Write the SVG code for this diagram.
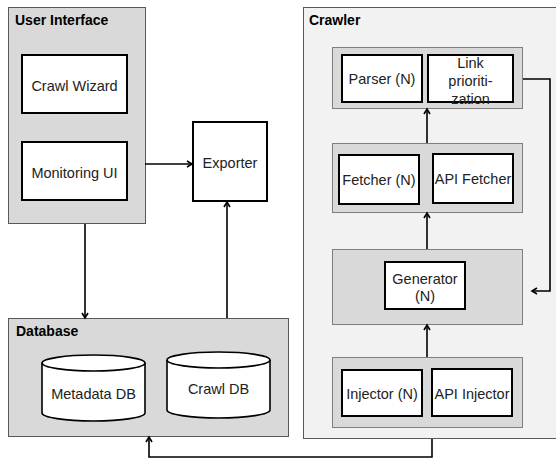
<svg xmlns="http://www.w3.org/2000/svg" width="556" height="459" viewBox="0 0 556 459">
  <defs>
    <marker id="arrow" markerWidth="8" markerHeight="8" refX="6" refY="4" orient="auto" markerUnits="userSpaceOnUse">
      <path d="M1,1 L6,4 L1,7" fill="none" stroke="#000" stroke-width="1.6"/>
    </marker>
    <style>
      .outer { fill: #d9d9d9; stroke: #595959; stroke-width: 1; }
      .crawler { fill: #f2f2f2; stroke: #595959; stroke-width: 1; }
      .stage { fill: #d9d9d9; stroke: #7f7f7f; stroke-width: 1; }
      .box { fill: #fff; stroke: #000; stroke-width: 2; }
      .db { fill: #fff; stroke: #000; stroke-width: 1.6; }
      .title { font-family: "Liberation Sans", Arial, sans-serif; font-size: 14px; font-weight: bold; fill: #000; }
      .label { font-family: "Liberation Sans", Arial, sans-serif; font-size: 14.5px; fill: #222; text-anchor: middle; dominant-baseline: central; }
      .conn { fill: none; stroke: #000; stroke-width: 1.6; }
    </style>
  </defs>

  <rect width="556" height="459" fill="#fff"/>

  <!-- User interface -->
  <g id="user-interface">
    <rect class="outer" x="8.5" y="7.5" width="137" height="216"/>
    <text class="title" x="15" y="25">User Interface</text>
  </g>
  <g id="crawl-wizard">
    <rect class="box" x="22" y="55" width="105" height="58"/>
    <text class="label" x="74.5" y="86">Crawl Wizard</text>
  </g>
  <g id="monitoring-ui">
    <rect class="box" x="22" y="142" width="105" height="58"/>
    <text class="label" x="74.5" y="173">Monitoring UI</text>
  </g>

  <!-- Exporter -->
  <g id="exporter">
    <rect class="box" x="193" y="122" width="74" height="79"/>
    <text class="label" x="230" y="163">Exporter</text>
  </g>

  <!-- Database -->
  <g id="database">
    <rect class="outer" x="8.5" y="318.5" width="280" height="118"/>
    <text class="title" x="16" y="336">Database</text>
  </g>
  <g id="metadata-db">
    <path class="db" d="M42,363 A51.5,8 0 0 1 145,363 V413 A51.5,8 0 0 1 42,413 Z"/>
    <path class="db" d="M42,363 A51.5,8 0 0 0 145,363"/>
    <text class="label" x="93.5" y="394">Metadata DB</text>
  </g>
  <g id="crawl-db">
    <path class="db" d="M167,360 A51.5,8 0 0 1 270,360 V410 A51.5,8 0 0 1 167,410 Z"/>
    <path class="db" d="M167,360 A51.5,8 0 0 0 270,360"/>
    <text class="label" x="218.5" y="389">Crawl DB</text>
  </g>

  <!-- Crawler -->
  <g id="crawler">
    <rect class="crawler" x="303.5" y="7.5" width="254" height="431"/>
    <text class="title" x="309" y="25">Crawler</text>
  </g>

  <g id="parse-stage">
    <rect class="stage" x="332.5" y="47.5" width="190" height="61"/>
  </g>
  <g id="parser">
    <rect class="box" x="342" y="55" width="80" height="47"/>
    <text class="label" x="382" y="79">Parser (N)</text>
  </g>
  <g id="link-prioritization">
    <rect class="box" x="428" y="55" width="85" height="47"/>
    <text class="label" x="470.5" y="63">Link</text>
    <text class="label" x="470.5" y="81">prioriti-</text>
    <text class="label" x="470.5" y="99">zation</text>
  </g>

  <g id="fetch-stage">
    <rect class="stage" x="332.5" y="143.5" width="190" height="69"/>
  </g>
  <g id="fetcher">
    <rect class="box" x="339" y="155" width="80" height="49"/>
    <text class="label" x="379" y="180">Fetcher (N)</text>
  </g>
  <g id="api-fetcher">
    <rect class="box" x="433" y="154" width="80" height="49"/>
    <text class="label" x="473" y="179">API Fetcher</text>
  </g>

  <g id="generate-stage">
    <rect class="stage" x="332.5" y="249.5" width="190" height="75"/>
  </g>
  <g id="generator">
    <rect class="box" x="385" y="262" width="80" height="47"/>
    <text class="label" x="425" y="279">Generator</text>
    <text class="label" x="425" y="296">(N)</text>
  </g>

  <g id="inject-stage">
    <rect class="stage" x="332.5" y="357.5" width="190" height="70"/>
  </g>
  <g id="injector">
    <rect class="box" x="342" y="370" width="80" height="46"/>
    <text class="label" x="382" y="394">Injector (N)</text>
  </g>
  <g id="api-injector">
    <rect class="box" x="432" y="369" width="80" height="47"/>
    <text class="label" x="472" y="394">API Injector</text>
  </g>

  <!-- Connectors -->
  <g id="connectors">
    <path class="conn" d="M145,164 H192" marker-end="url(#arrow)"/>
    <path class="conn" d="M85,224 V318" marker-end="url(#arrow)"/>
    <path class="conn" d="M227,318 V202" marker-end="url(#arrow)"/>
    <path class="conn" d="M427,143 V109" marker-end="url(#arrow)"/>
    <path class="conn" d="M427,249 V213" marker-end="url(#arrow)"/>
    <path class="conn" d="M427,357 V325" marker-end="url(#arrow)"/>
    <path class="conn" d="M523,79 H550 V291 H532" marker-end="url(#arrow)"/>
    <path class="conn" d="M432,439 V457 H149 V437" marker-end="url(#arrow)"/>
  </g>
</svg>
